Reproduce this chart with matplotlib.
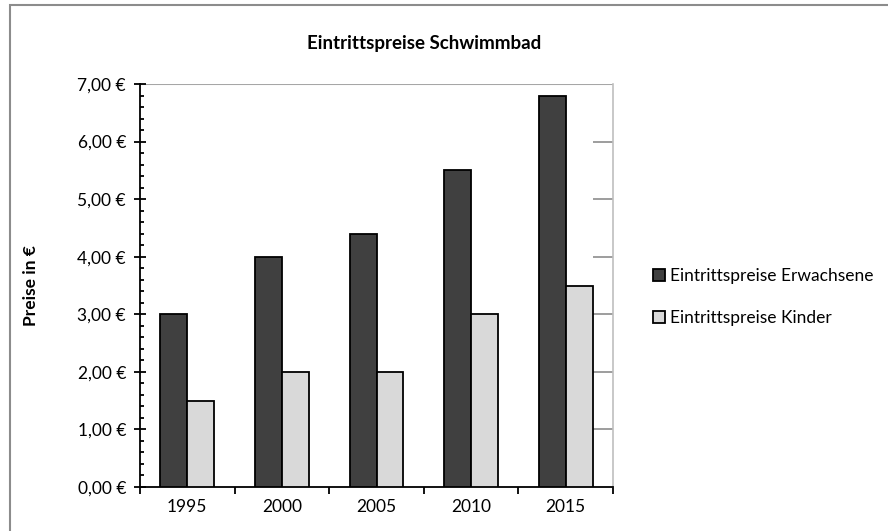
import matplotlib.pyplot as plt
import matplotlib.patches as patches
from matplotlib.ticker import MultipleLocator, FuncFormatter
import numpy as np

years = ["1995", "2000", "2005", "2010", "2015"]
erwachsene = [3.00, 4.00, 4.40, 5.50, 6.80]
kinder = [1.50, 2.00, 2.00, 3.00, 3.50]
series_names = ["Eintrittspreise Erwachsene", "Eintrittspreise Kinder"]
title = "Eintrittspreise Schwimmbad"
ylabel = "Preise in €"

plt.rcParams['font.family'] = ['Lato', 'DejaVu Sans']

fig = plt.figure(figsize=(8.88, 5.31), dpi=100)
ax = fig.add_axes([140/888, 1 - 487/531, 473/888, 403/531])

x = np.arange(len(years))
w = 0.285
b1 = ax.bar(x - w/2, erwachsene, w, color="#404040", edgecolor="black", lw=1.3,
            label=series_names[0], zorder=3)
b2 = ax.bar(x + w/2, kinder, w, color="#d9d9d9", edgecolor="black", lw=1.3,
            label=series_names[1], zorder=3)

ax.set_xlim(-0.5, len(years) - 0.5)
ax.set_ylim(0, 7)

# gridlines only visible right of the last bar (rest is covered in the original)
last_edge = x[-1] + w
for yv in np.arange(1, 7):
    ax.hlines(yv, last_edge, len(years) - 0.5, color="#8c8c8c", lw=1.2, zorder=1)
ax.hlines(7, -0.5, len(years) - 0.5, color="#a6a6a6", lw=1.5, zorder=1)

ax.spines['top'].set_visible(False)
ax.spines['right'].set_color("#bfbfbf")
ax.spines['right'].set_linewidth(1.2)
ax.spines['left'].set_linewidth(1.3)
ax.spines['bottom'].set_linewidth(1.3)

ax.yaxis.set_major_locator(MultipleLocator(1))
ax.yaxis.set_minor_locator(MultipleLocator(0.2))
ax.yaxis.set_major_formatter(FuncFormatter(lambda v, pos: f"{v:.2f}".replace(".", ",") + " €"))
ax.tick_params(axis='y', which='major', direction='inout', length=8, width=1.3,
               labelsize=12.5, pad=6)
ax.tick_params(axis='y', which='minor', direction='in', length=3, width=1.3)

ax.set_xticks(np.arange(-0.5, len(years)), minor=True)
ax.set_xticks(x)
ax.set_xticklabels(years)
ax.tick_params(axis='x', which='major', length=0, labelsize=12.5, pad=9)
ax.tick_params(axis='x', which='minor', direction='out', length=5, width=1.3)

ax.set_ylabel(ylabel, fontsize=12.5, fontweight='bold', labelpad=28)
fig.text(424/888, 1 - 44/531, title, fontsize=13.5,
         fontweight='bold', ha='center', va='center')

leg = fig.legend(handles=[b1, b2], loc='center left',
                 bbox_to_anchor=(637/888, 1 - 297/531), frameon=False,
                 fontsize=12.5, handlelength=0.7, handleheight=0.7,
                 handletextpad=0.3, labelspacing=1.5)

# outer chart border
fig.add_artist(patches.Rectangle((10/888, -0.05), 1.0, 1 - 5/531 + 0.05,
                                 transform=fig.transFigure, fill=False,
                                 edgecolor="#8c8c8c", lw=1.5))

fig.savefig("out.png", dpi=100)
